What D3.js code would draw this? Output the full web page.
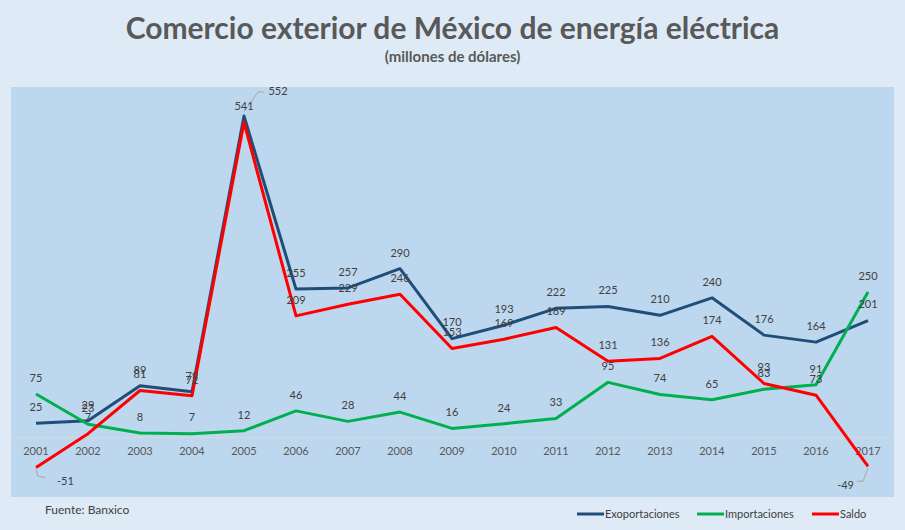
<!DOCTYPE html>
<html>
<head>
<meta charset="utf-8">
<script src="https://cdn.jsdelivr.net/npm/d3@7"></script>
<style>
  body { margin: 0; background: #deebf7; }
  text { font-family: Lato, "Open Sans", sans-serif; }
</style>
</head>
<body>
<div id="chart"></div>
<script>
// Data (millones de dólares)
const years = ["2001","2002","2003","2004","2005","2006","2007","2008","2009",
               "2010","2011","2012","2013","2014","2015","2016","2017"];
const exportaciones = [25, 29, 89, 79, 552, 255, 257, 290, 170, 193, 222, 225, 210, 240, 176, 164, 201];
const importaciones = [75, 23, 8, 7, 12, 46, 28, 44, 16, 24, 33, 95, 74, 65, 83, 91, 250];
const saldo = [-51, 7, 81, 72, 541, 209, 229, 246, 153, 169, 189, 131, 136, 174, 93, 73, -49];
const yDomain = [-100, 600];

const width = 905, height = 530;
const plot = {left: 10, right: 894, top: 87, bottom: 497};

const series = [
  {name: "Exoportaciones", values: exportaciones, color: "#1f4e79"},
  {name: "Importaciones", values: importaciones, color: "#00b050"},
  {name: "Saldo", values: saldo, color: "#ff0000"}
];

const svg = d3.select("#chart")
  .append("svg")
    .attr("width", width)
    .attr("height", height);

svg.append("rect")
  .attr("width", width).attr("height", height)
  .attr("fill", "#deebf7");

// Plot area
svg.append("rect")
  .attr("x", plot.left + 1)
  .attr("y", plot.top)
  .attr("width", plot.right - plot.left - 1)
  .attr("height", plot.bottom - plot.top)
  .attr("fill", "#bdd7ee");

// Scales
const x = d3.scaleBand()
  .domain(years)
  .range([plot.left, plot.right]);
const cx = d => x(d) + x.bandwidth() / 2;

const y = d3.scaleLinear()
  .domain(yDomain)
  .range([496, 88]);

// Zero line
svg.append("line")
  .attr("x1", plot.left + 1).attr("x2", plot.right)
  .attr("y1", y(0)).attr("y2", y(0))
  .attr("stroke", "#d9d9d9")
  .attr("stroke-width", 1);

// X axis
const xAxis = svg.append("g")
  .attr("transform", `translate(0,${y(0)})`)
  .call(d3.axisBottom(x).tickSize(0).tickPadding(9));
xAxis.select(".domain").remove();
xAxis.selectAll("text")
  .attr("fill", "#595959")
  .style("font-size", "11px");

// Lines
const line = d3.line()
  .x((v, i) => cx(years[i]))
  .y(v => y(v));

svg.selectAll(".serie")
  .data(series)
  .join("path")
    .attr("class", "serie")
    .attr("d", d => line(d.values))
    .attr("fill", "none")
    .attr("stroke", d => d.color)
    .attr("stroke-width", 3)
    .attr("stroke-linejoin", "round");

// Data labels (a few are moved with a leader line, like in the original)
const nudges = {
  "Exoportaciones-2005": {dx: 34, dy: -25, leader: [[0, -4], [14, -24], [20, -24]], anchor: "middle"},
  "Saldo-2001": {dx: 21, dy: 14, leader: [[0, 2], [2, 9], [9, 10]], anchor: "start"},
  "Saldo-2017": {dx: -14, dy: 19, leader: [[0, 2], [-5, 15], [-11, 15]], anchor: "end"}
};

const labels = [];
series.forEach(s => {
  s.values.forEach((v, i) => {
    labels.push({key: s.name + "-" + years[i], year: years[i], value: v});
  });
});

svg.selectAll(".leader")
  .data(labels.filter(d => nudges[d.key]))
  .join("polyline")
    .attr("class", "leader")
    .attr("points", d => nudges[d.key].leader
      .map(p => [cx(d.year) + p[0], y(d.value) + p[1]].join(",")).join(" "))
    .attr("fill", "none")
    .attr("stroke", "#a6a6a6")
    .attr("stroke-width", 1);

svg.selectAll(".dlabel")
  .data(labels)
  .join("text")
    .attr("class", "dlabel")
    .attr("x", d => cx(d.year) + (nudges[d.key] ? nudges[d.key].dx : 0))
    .attr("y", d => y(d.value) + (nudges[d.key] ? nudges[d.key].dy : -16))
    .attr("dy", "0.35em")
    .attr("text-anchor", d => nudges[d.key] ? nudges[d.key].anchor : "middle")
    .attr("fill", "#404040")
    .style("font-size", "11px")
    .text(d => d.value);

// Title
svg.append("text")
  .attr("x", width / 2)
  .attr("y", 39)
  .attr("text-anchor", "middle")
  .attr("fill", "#595959")
  .style("font-size", "30px")
  .style("font-weight", "bold")
  .text("Comercio exterior de México de energía eléctrica");

svg.append("text")
  .attr("x", width / 2)
  .attr("y", 62)
  .attr("text-anchor", "middle")
  .attr("fill", "#595959")
  .style("font-size", "15px")
  .style("font-weight", "bold")
  .text("(millones de dólares)");

// Source
svg.append("text")
  .attr("x", 45)
  .attr("y", 514)
  .attr("fill", "#404040")
  .style("font-size", "12px")
  .text("Fuente: Banxico");

// Legend
const legendX = [577, 697, 812];
const legend = svg.selectAll(".legend")
  .data(series)
  .join("g")
    .attr("class", "legend")
    .attr("transform", (d, i) => `translate(${legendX[i]},514)`);
legend.append("line")
  .attr("x1", 0).attr("x2", 27)
  .attr("stroke", d => d.color)
  .attr("stroke-width", 3);
legend.append("text")
  .attr("x", 28)
  .attr("dy", "0.35em")
  .attr("fill", "#404040")
  .style("font-size", "11px")
  .text(d => d.name);
</script>
</body>
</html>
